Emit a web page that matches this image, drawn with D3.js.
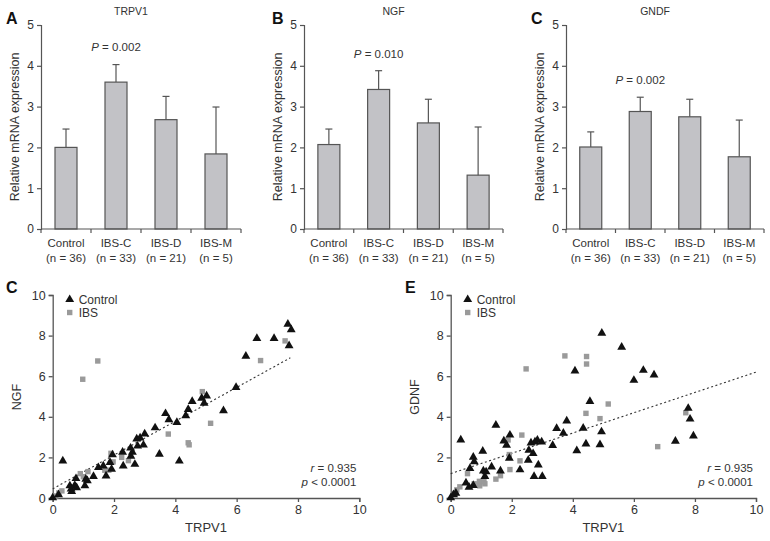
<!DOCTYPE html>
<html><head><meta charset="utf-8">
<script src="https://cdn.jsdelivr.net/npm/d3@7/dist/d3.min.js"></script>
<style>body{margin:0;background:#fff}svg{display:block;font-family:"Liberation Sans",Arial,sans-serif}</style>
</head><body><svg id="c" width="770" height="541"></svg>
<script>
// ---------- data ----------
const categories = ["Control","IBS-C","IBS-D","IBS-M"];
const groupN = ["(n = 36)","(n = 33)","(n = 21)","(n = 5)"];
const barTicks = [0,1,2,3,4,5];
const trpv1Mean = [2.0, 3.6, 2.68, 1.84];
const trpv1Err  = [2.45, 4.03, 3.25, 2.99];
const ngfMean   = [2.07, 3.42, 2.6, 1.32];
const ngfErr    = [2.45, 3.88, 3.18, 2.5];
const gndfMean  = [2.01, 2.88, 2.75, 1.77];
const gndfErr   = [2.38, 3.23, 3.18, 2.67];
const pLabels = ["0.002","0.010","0.002"];
const pLevels = [4.46, 4.29, 3.65];

const scatTicks = [0,2,4,6,8,10];
// NGF vs TRPV1
const ngfCtrl = [[0.33,1.87],[0.0,0.05],[0.19,0.2],[0.56,0.64],[0.6,0.48],[0.62,0.36],[0.72,0.66],[0.76,1.0],[0.78,0.55],[1.05,0.64],[1.08,0.97],[1.13,0.89],[1.33,1.1],[1.49,1.54],[1.65,1.62],[1.74,1.13],[1.87,1.79],[1.92,1.46],[1.95,2.17],[2.28,2.3],[2.3,1.62],[2.54,2.5],[2.55,2.1],[2.6,2.3],[2.68,1.7],[2.74,2.95],[2.77,2.6],[2.85,3.0],[2.96,2.65],[3.0,3.2],[3.34,3.5],[3.48,2.2],[3.68,4.2],[3.79,3.9],[4.05,3.76],[4.13,1.86],[4.34,4.1],[4.42,4.4],[4.55,4.8],[4.86,4.96],[5.02,5.07],[4.94,4.71],[5.57,4.34],[5.98,5.49],[6.3,7.03],[6.66,7.9],[7.22,7.9],[7.67,8.6],[7.78,8.33],[7.71,7.54]];
const ngfIbs = [[0.3,0.35],[0.2,0.25],[0.1,0.1],[0.68,0.54],[0.98,5.85],[1.47,6.75],[0.9,1.2],[1.15,1.3],[1.0,1.05],[1.7,1.37],[1.83,1.37],[1.9,2.2],[1.97,1.78],[2.25,2.0],[2.47,1.84],[3.77,3.15],[4.42,2.72],[4.45,2.62],[4.88,5.24],[5.15,3.68],[6.78,6.77],[7.58,7.74]];
// GDNF vs TRPV1
const gdnfCtrl = [[0.33,2.9],[0.0,0.05],[0.09,0.2],[0.17,0.28],[0.5,0.78],[0.6,0.57],[0.63,1.5],[0.74,2.05],[0.77,1.83],[0.74,0.66],[1.05,2.35],[1.07,1.37],[1.12,1.1],[1.16,1.33],[1.34,1.57],[1.48,3.63],[1.63,1.37],[1.74,2.85],[1.83,2.64],[1.94,3.14],[1.92,2.0],[2.27,1.43],[2.54,1.9],[2.56,2.39],[2.63,2.75],[2.7,2.23],[2.76,2.8],[2.73,1.1],[2.87,1.67],[2.84,2.89],[3.0,1.1],[2.98,2.8],[3.34,2.63],[3.47,3.47],[3.69,3.23],[3.8,3.84],[4.07,6.3],[4.13,2.37],[4.95,8.16],[5.6,7.47],[6.31,6.33],[6.0,5.84],[6.66,6.1],[4.56,4.8],[4.34,3.48],[4.94,3.3],[4.43,2.7],[4.89,2.67],[7.36,2.84],[7.78,4.46],[7.84,3.93],[7.95,3.1]];
const gdnfIbs = [[0.55,1.2],[0.2,0.4],[0.3,0.55],[0.15,0.2],[0.77,0.7],[0.94,0.82],[0.95,0.6],[1.09,0.8],[1.12,0.7],[1.48,0.93],[1.63,1.1],[1.92,2.14],[1.94,1.4],[1.88,2.86],[2.33,3.1],[2.27,1.83],[2.47,6.36],[3.74,7.0],[4.45,6.97],[4.45,6.6],[5.16,4.63],[4.43,4.17],[4.89,3.91],[6.78,2.53],[7.7,4.2]];
const ngfFit = [0.45, 0.833];   // intercept, slope
const gdnfFit = [1.2, 0.5];
const fitRange = [[0,7.75],[0,10]];

// ---------- drawing ----------
const svg = d3.select("#c");
const AX = "#555", TX = "#333";

function barPanel(o){
  const g = svg.append("g");
  const x = d3.scaleBand().domain(categories).range([o.x0,o.x1]);
  const y = d3.scaleLinear().domain([0,5]).range([229,25]);
  const bw = 22;
  g.selectAll("rect.bar").data(o.mean).join("rect")
    .attr("x",(d,i)=>x(categories[i])+x.bandwidth()/2-bw/2)
    .attr("y",d=>y(d)).attr("width",bw).attr("height",d=>y(0)-y(d))
    .attr("fill","#c2c2c6").attr("stroke","#555").attr("stroke-width",1.2);
  g.selectAll("line.err").data(o.err).join("line")
    .attr("x1",(d,i)=>x(categories[i])+x.bandwidth()/2).attr("x2",(d,i)=>x(categories[i])+x.bandwidth()/2)
    .attr("y1",(d,i)=>y(o.mean[i])).attr("y2",d=>y(d)).attr("stroke","#555").attr("stroke-width",1.2);
  g.selectAll("line.cap").data(o.err).join("line")
    .attr("x1",(d,i)=>x(categories[i])+x.bandwidth()/2-3.5).attr("x2",(d,i)=>x(categories[i])+x.bandwidth()/2+3.5)
    .attr("y1",d=>y(d)).attr("y2",d=>y(d)).attr("stroke","#555").attr("stroke-width",1.2);
  const ya = g.append("g").attr("transform",`translate(${o.x0},0)`).call(d3.axisLeft(y).tickValues(barTicks).tickSize(4).tickPadding(3).tickFormat(d3.format("d")));
  ya.select(".domain").attr("stroke",AX).attr("stroke-width",1.2);
  ya.selectAll(".tick line").attr("stroke",AX).attr("stroke-width",1.2);
  ya.selectAll("text").attr("fill",TX).style("font-size","12px").style("font-family","Liberation Sans, Arial");
  g.append("line").attr("x1",o.x0).attr("x2",o.x1).attr("y1",y(0)).attr("y2",y(0)).attr("stroke",AX).attr("stroke-width",1.2);
  const bounds = categories.map(c=>x(c)).concat([o.x1]);
  g.selectAll("line.bt").data(bounds).join("line").attr("x1",d=>d).attr("x2",d=>d).attr("y1",y(0)).attr("y2",y(0)+4).attr("stroke",AX).attr("stroke-width",1.2);
  g.selectAll("text.cat").data(categories).join("text").attr("x",d=>x(d)+x.bandwidth()/2).attr("y",247)
    .attr("text-anchor","middle").attr("fill",TX).style("font-size","11.5px").text(d=>d);
  g.selectAll("text.n").data(groupN).join("text").attr("x",(d,i)=>x(categories[i])+x.bandwidth()/2).attr("y",262)
    .attr("text-anchor","middle").attr("fill",TX).style("font-size","11.5px").text(d=>d);
  g.append("text").attr("x",(o.x0+o.x1)/2-10).attr("y",15).attr("text-anchor","middle").attr("fill",TX).style("font-size","10.5px").text(o.title);
  g.append("text").attr("x",o.lx).attr("y",24).attr("fill","#111").style("font-size","16px").style("font-weight","bold").text(o.letter);
  g.append("text").attr("transform",`translate(${o.x0-22},127) rotate(-90)`).attr("text-anchor","middle").attr("fill",TX).style("font-size","12.5px").text("Relative mRNA expression");
  const pt = g.append("text").attr("x",x("IBS-C")+x.bandwidth()/2).attr("y",y(o.pLevel)+4).attr("text-anchor","middle").attr("fill",TX).style("font-size","11.5px");
  pt.append("tspan").style("font-style","italic").text("P");
  pt.append("tspan").text(" = "+o.p);
}
barPanel({x0:41,x1:241,mean:trpv1Mean,err:trpv1Err,title:"TRPV1",letter:"A",lx:6,p:pLabels[0],pLevel:pLevels[0]});
barPanel({x0:304,x1:503,mean:ngfMean,err:ngfErr,title:"NGF",letter:"B",lx:272,p:pLabels[1],pLevel:pLevels[1]});
barPanel({x0:566,x1:764,mean:gndfMean,err:gndfErr,title:"GNDF",letter:"C",lx:531,p:pLabels[2],pLevel:pLevels[2]});

function scatter(o){
  const g = svg.append("g");
  const x = d3.scaleLinear().domain([0,10]).range([o.x0,o.x0+o.w]);
  const y = d3.scaleLinear().domain([0,10]).range([498,295]);
  const xa = g.append("g").attr("transform","translate(0,498)").call(d3.axisBottom(x).tickValues(scatTicks).tickSize(4).tickPadding(3));
  const ya = g.append("g").attr("transform",`translate(${o.x0},0)`).call(d3.axisLeft(y).tickValues(scatTicks).tickSize(4).tickPadding(3));
  [xa,ya].forEach(a=>{a.select(".domain").attr("stroke",AX).attr("stroke-width",1.3);
    a.selectAll(".tick line").attr("stroke",AX).attr("stroke-width",1.3);
    a.selectAll("text").attr("fill",TX).style("font-size","12.5px").style("font-family","Liberation Sans, Arial");});
  g.append("line").attr("x1",x(o.range[0])).attr("x2",x(o.range[1]))
    .attr("y1",y(o.fit[0]+o.fit[1]*o.range[0])).attr("y2",y(o.fit[0]+o.fit[1]*o.range[1]))
    .attr("stroke","#333").attr("stroke-width",1.1).attr("stroke-dasharray","2,2.5");
  const tri = d3.symbol().type(d3.symbolTriangle).size(34);
  g.selectAll("rect.ibs").data(o.ibs).join("rect").attr("x",d=>x(d[0])-2.7).attr("y",d=>y(d[1])-2.7)
    .attr("width",5.4).attr("height",5.4).attr("fill","#9a9a9a");
  g.selectAll("path.ctrl").data(o.ctrl).join("path").attr("d",tri)
    .attr("transform",d=>`translate(${x(d[0])},${y(d[1])+0.8})`).attr("fill","#111");
  // legend
  g.append("path").attr("d",tri).attr("transform",`translate(${o.x0+17},${299.5})`).attr("fill","#111");
  g.append("text").attr("x",o.x0+26).attr("y",303.5).attr("fill",TX).style("font-size","12px").text("Control");
  g.append("rect").attr("x",o.x0+14.3).attr("y",309.8).attr("width",5.4).attr("height",5.4).attr("fill","#9a9a9a");
  g.append("text").attr("x",o.x0+26).attr("y",317).attr("fill",TX).style("font-size","12px").text("IBS");
  g.append("text").attr("x",x(5)).attr("y",532).attr("text-anchor","middle").attr("fill",TX).style("font-size","13px").text("TRPV1");
  g.append("text").attr("transform",`translate(${o.x0-32},397) rotate(-90)`).attr("text-anchor","middle").attr("fill",TX).style("font-size","12.5px").text(o.ylab);
  g.append("text").attr("x",o.lx).attr("y",293).attr("fill","#111").style("font-size","16px").style("font-weight","bold").text(o.letter);
  const r = g.append("text").attr("x",x(10)-3).attr("y",472).attr("text-anchor","end").attr("fill",TX).style("font-size","11.5px");
  r.append("tspan").style("font-style","italic").text("r"); r.append("tspan").text(" = 0.935");
  const p = g.append("text").attr("x",x(10)-3).attr("y",486).attr("text-anchor","end").attr("fill",TX).style("font-size","11.5px");
  p.append("tspan").style("font-style","italic").text("p"); p.append("tspan").text(" < 0.0001");
}
scatter({x0:52.7,w:306.6,ctrl:ngfCtrl,ibs:ngfIbs,fit:ngfFit,range:fitRange[0],ylab:"NGF",letter:"C",lx:6});
scatter({x0:450.7,w:305.3,ctrl:gdnfCtrl,ibs:gdnfIbs,fit:gdnfFit,range:fitRange[1],ylab:"GDNF",letter:"E",lx:405});
</script></body></html>
